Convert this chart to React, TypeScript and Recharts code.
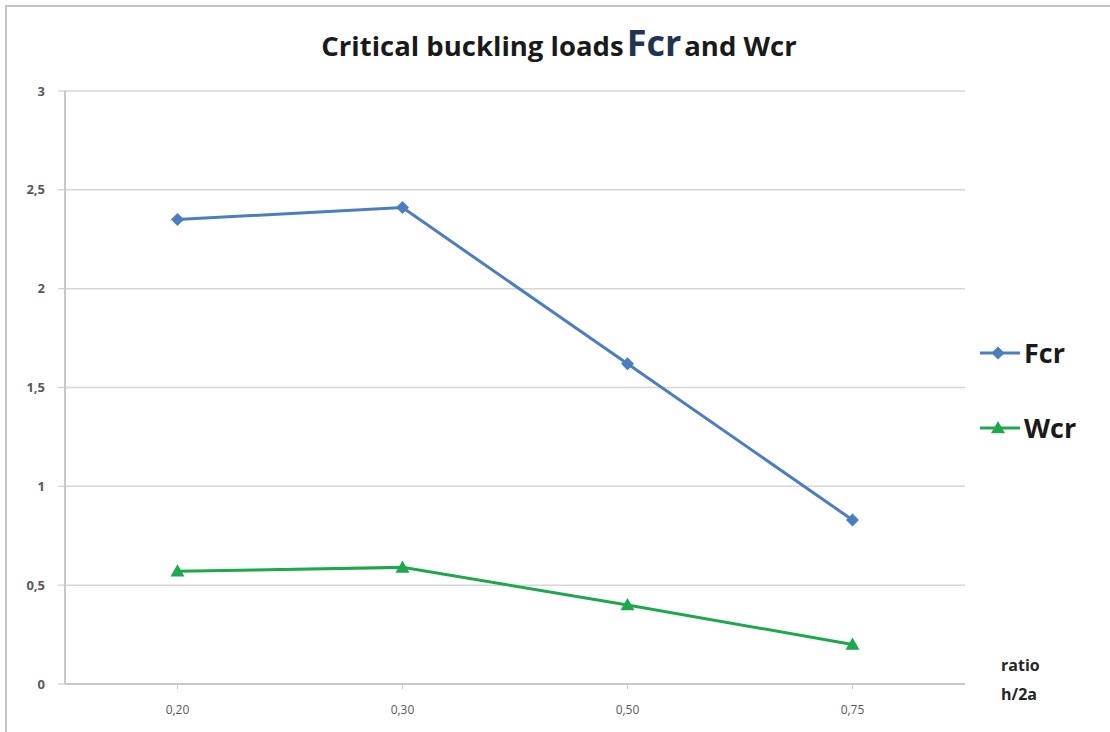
import { CartesianGrid, Line, LineChart, XAxis, YAxis } from "recharts";

const ratios = ["0,20", "0,30", "0,50", "0,75"];
const fcrValues = [2.35, 2.41, 1.62, 0.83];
const wcrValues = [0.57, 0.59, 0.4, 0.2];
const yTicks = [0, 0.5, 1, 1.5, 2, 2.5, 3];

const FCR_COLOR = "#4a7ebf";
const WCR_COLOR = "#1ea84c";
const FONT = "'Open Sans', 'Liberation Sans', sans-serif";

const data = ratios.map((r, i) => ({ ratio: r, Fcr: fcrValues[i], Wcr: wcrValues[i] }));

function Diamond({ cx, cy, fill }: { cx?: number; cy?: number; fill: string }) {
  if (cx == null || cy == null) return null;
  const s = 6.5;
  return (
    <path
      d={`M${cx},${cy - s} L${cx + s},${cy} L${cx},${cy + s} L${cx - s},${cy} Z`}
      fill={fill}
    />
  );
}

function Triangle({ cx, cy, fill }: { cx?: number; cy?: number; fill: string }) {
  if (cx == null || cy == null) return null;
  const s = 7;
  return (
    <path
      d={`M${cx},${cy - s} L${cx + s},${cy + s * 0.75} L${cx - s},${cy + s * 0.75} Z`}
      fill={fill}
    />
  );
}

function LegendBox() {
  const item = (label: string, color: string, marker: "d" | "t") => (
    <div style={{ display: "flex", alignItems: "center", height: 75 }}>
      <svg width={44} height={20}>
        <line x1={2} x2={42} y1={10} y2={10} stroke={color} strokeWidth={3} />
        {marker === "d" ? (
          <Diamond cx={20} cy={10} fill={color} />
        ) : (
          <Triangle cx={20} cy={10} fill={color} />
        )}
      </svg>
      <span
        style={{
          fontFamily: FONT,
          fontWeight: 700,
          fontSize: 27,
          color: "#1a1a1a",
          marginLeft: 2,
        }}
      >
        {label}
      </span>
    </div>
  );
  return (
    <div style={{ position: "absolute", left: 978, top: 315, width: 130 }}>
      {item("Fcr", FCR_COLOR, "d")}
      {item("Wcr", WCR_COLOR, "t")}
    </div>
  );
}

export default function App() {
  return (
    <div
      style={{
        position: "absolute",
        left: 0,
        top: 0,
        width: 1110,
        height: 732,
        background: "#fff",
        overflow: "hidden",
      }}
    >
      <div
        style={{
          position: "absolute",
          left: 5,
          top: 5,
          width: 1120,
          height: 725,
          border: "2px solid #c4c4c4",
        }}
      />
      <div
        style={{
          position: "absolute",
          left: 0,
          width: 1118,
          top: 20,
          textAlign: "center",
          fontFamily: FONT,
          fontWeight: 700,
          fontSize: 27.5,
          lineHeight: "46px",
          color: "#1a1a1a",
        }}
      >
        Critical buckling loads
        <span style={{ fontSize: 36, color: "#1f3550", margin: "0 3px" }}>Fcr</span>
        and Wcr
      </div>
      <div
        style={{
          position: "absolute",
          left: 1001,
          top: 651,
          fontFamily: FONT,
          fontWeight: 700,
          fontSize: 16,
          lineHeight: "29px",
          color: "#262626",
        }}
      >
        ratio
        <br />
        h/2a
      </div>
      <LegendBox />
      <LineChart
        width={1110}
        height={732}
        data={data}
        margin={{ top: 91, right: 145, bottom: 8, left: 0 }}
        style={{ position: "absolute", left: 0, top: 0 }}
      >
        <CartesianGrid horizontal vertical={false} stroke="#d6d6d6" strokeWidth={1.5} />
        <XAxis
          dataKey="ratio"
          height={40}
          padding={{ left: 112.5, right: 112.5 }}
          axisLine={{ stroke: "#c8c8c8", strokeWidth: 2 }}
          tickLine={{ stroke: "#c8c8c8" }}
          tickSize={5}
          tickMargin={16}
          tick={{ fontSize: 12, fill: "#595959", fontFamily: FONT }}
        />
        <YAxis
          width={65}
          domain={[0, 3]}
          ticks={yTicks}
          axisLine={{ stroke: "#c8c8c8", strokeWidth: 2 }}
          tickLine={{ stroke: "#c8c8c8" }}
          tickSize={7}
          tickMargin={13}
          tickFormatter={(v: number) => String(v).replace(".", ",")}
          tick={{ fontSize: 13, fill: "#595959", fontFamily: FONT, fontWeight: 700 }}
        />
        <Line
          dataKey="Fcr"
          stroke={FCR_COLOR}
          strokeWidth={3}
          isAnimationActive={false}
          dot={(p: any) => <Diamond key={`f${p.index}`} cx={p.cx} cy={p.cy} fill={FCR_COLOR} />}
        />
        <Line
          dataKey="Wcr"
          stroke={WCR_COLOR}
          strokeWidth={3}
          isAnimationActive={false}
          dot={(p: any) => <Triangle key={`w${p.index}`} cx={p.cx} cy={p.cy} fill={WCR_COLOR} />}
        />
      </LineChart>
    </div>
  );
}
